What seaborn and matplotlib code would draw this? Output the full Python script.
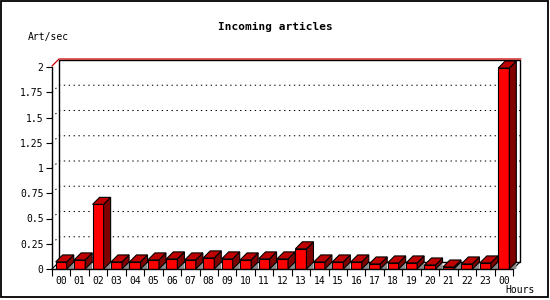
import numpy as np
import pandas as pd
import matplotlib
matplotlib.use("Agg")
import matplotlib.pyplot as plt
import seaborn as sns
from matplotlib.patches import Polygon, Rectangle
from matplotlib.lines import Line2D

# ---- data ----
hour_labels = ["00", "01", "02", "03", "04", "05", "06", "07", "08", "09", "10", "11",
               "12", "13", "14", "15", "16", "17", "18", "19", "20", "21", "22", "23", "00"]
art_per_sec = [0.07, 0.09, 0.64, 0.07, 0.07, 0.09, 0.10, 0.09, 0.11, 0.10, 0.09, 0.10,
               0.10, 0.20, 0.07, 0.07, 0.07, 0.05, 0.06, 0.06, 0.04, 0.02, 0.05, 0.06, 1.99]
y_ticks = [0, 0.25, 0.5, 0.75, 1, 1.25, 1.5, 1.75, 2]
y_tick_labels = ["0", "0.25", "0.5", "0.75", "1", "1.25", "1.5", "1.75", "2"]

sns.set_theme(style="white")
plt.rcParams["font.family"] = ["DejaVu Sans Mono", "DejaVu Sans"]

W, H, DPI = 550, 300, 100
fig = plt.figure(figsize=(W / DPI, H / DPI), dpi=DPI)

# axes = front plot area in pixels
ax_l, ax_r, ax_b, ax_t = 52, 513, 269, 67
ax = fig.add_axes([ax_l / W, (H - ax_b) / H, (ax_r - ax_l) / W, (ax_b - ax_t) / H])

n = len(art_per_sec)
df = pd.DataFrame({"slot": np.arange(n), "value": art_per_sec})

xmin, xmax = -0.5, n - 0.5
ymin, ymax = 0, 2
ppx = (ax_r - ax_l) / (xmax - xmin)
ppy = (ax_b - ax_t) / (ymax - ymin)
DXp, DYp = 7, 7
DX, DY = DXp / ppx, DYp / ppy
BW = 0.6

ax.set_xlim(xmin, xmax)
ax.set_ylim(ymin, ymax)

# back wall
ax.add_patch(Rectangle((xmin + DX, ymin + DY), xmax - xmin, ymax - ymin,
                       facecolor="white", edgecolor="black", lw=1.0,
                       clip_on=False, zorder=0.5))

# dotted grid lines incl. diagonal into the wall
for yv in y_ticks[1:-1]:
    ax.add_line(Line2D([xmin, xmin + DX, xmax + DX], [yv, yv + DY, yv + DY],
                       color="black", lw=0.75, linestyle=(0, (1.3, 3.4)),
                       clip_on=False, zorder=0.6))
# top line red (just above the wall's top edge)
up = 1.0 / ppy
ax.add_line(Line2D([xmin, xmin + DX, xmax + DX + 1 / ppx], [ymax + up, ymax + DY + up, ymax + DY + up],
                   color="#cc0000", lw=0.9, clip_on=False, zorder=0.7))
# floor diagonals
ax.add_line(Line2D([xmin, xmin + DX], [0, DY], color="black", lw=0.8, clip_on=False, zorder=0.6))
ax.add_line(Line2D([xmax, xmax + DX], [0, DY], color="black", lw=0.8, clip_on=False, zorder=0.6))

# front faces through seaborn
sns.barplot(data=df, x="slot", y="value", color="#ff0000", saturation=1,
            width=BW, edgecolor="black", linewidth=0.8, ax=ax, zorder=2)

# 3D top / side faces and floor shadow
for i, v in enumerate(art_per_sec):
    xl, xr = i - BW / 2, i + BW / 2
    shadow = Polygon([(xr, 0), (xr + DX, DY), (xr + DX, 0)], closed=True,
                     facecolor="#8c8c8c", edgecolor="none", zorder=1.5, clip_on=False)
    top = Polygon([(xl, v), (xl + DX, v + DY), (xr + DX, v + DY), (xr, v)], closed=True,
                  facecolor="#c00000", edgecolor="black", lw=0.8, zorder=2.5, clip_on=False)
    side = Polygon([(xr, 0), (xr, v), (xr + DX, v + DY), (xr + DX, DY)], closed=True,
                   facecolor="#800000", edgecolor="black", lw=0.8, zorder=2.5, clip_on=False)
    ax.add_patch(shadow)
    ax.add_patch(side)
    ax.add_patch(top)

# axes styling
for s in ["top", "right"]:
    ax.spines[s].set_visible(False)
for s in ["left", "bottom"]:
    ax.spines[s].set_color("black")
    ax.spines[s].set_linewidth(1.0)
    ax.spines[s].set_zorder(3)

ax.set_yticks(y_ticks)
ax.set_yticklabels(y_tick_labels)
ax.set_xticks(np.arange(n))
ax.set_xticklabels(hour_labels)
ax.set_xticks(np.arange(n + 1) - 0.5, minor=True)
ax.tick_params(axis="x", which="major", length=0, pad=5, labelsize=7, colors="black")
ax.tick_params(axis="x", which="minor", length=5, width=0.8, color="black", direction="out", bottom=True)
ax.tick_params(axis="y", length=4, width=0.8, color="black", direction="out", left=True,
               pad=2, labelsize=7, labelcolor="black")
ax.set_xlabel("")
ax.set_ylabel("")
ax.set_facecolor("none")
ax.patch.set_alpha(0)

# texts
fig.text(275 / W, 1 - 27 / H, "Incoming articles", ha="center", va="center",
         fontsize=8, fontweight="bold", color="black")
fig.text(28 / W, 1 - 37 / H, "Art/sec", ha="left", va="center", fontsize=7, color="black")
fig.text(535 / W, 1 - 290 / H, "Hours", ha="right", va="center", fontsize=7, color="black")

# outer frame
fig.patches.append(Rectangle((1 / W, 3 / H), 546.5 / W, 296 / H, transform=fig.transFigure,
                             facecolor="none", edgecolor="black", lw=1.3))

fig.savefig("out.png", dpi=DPI)
